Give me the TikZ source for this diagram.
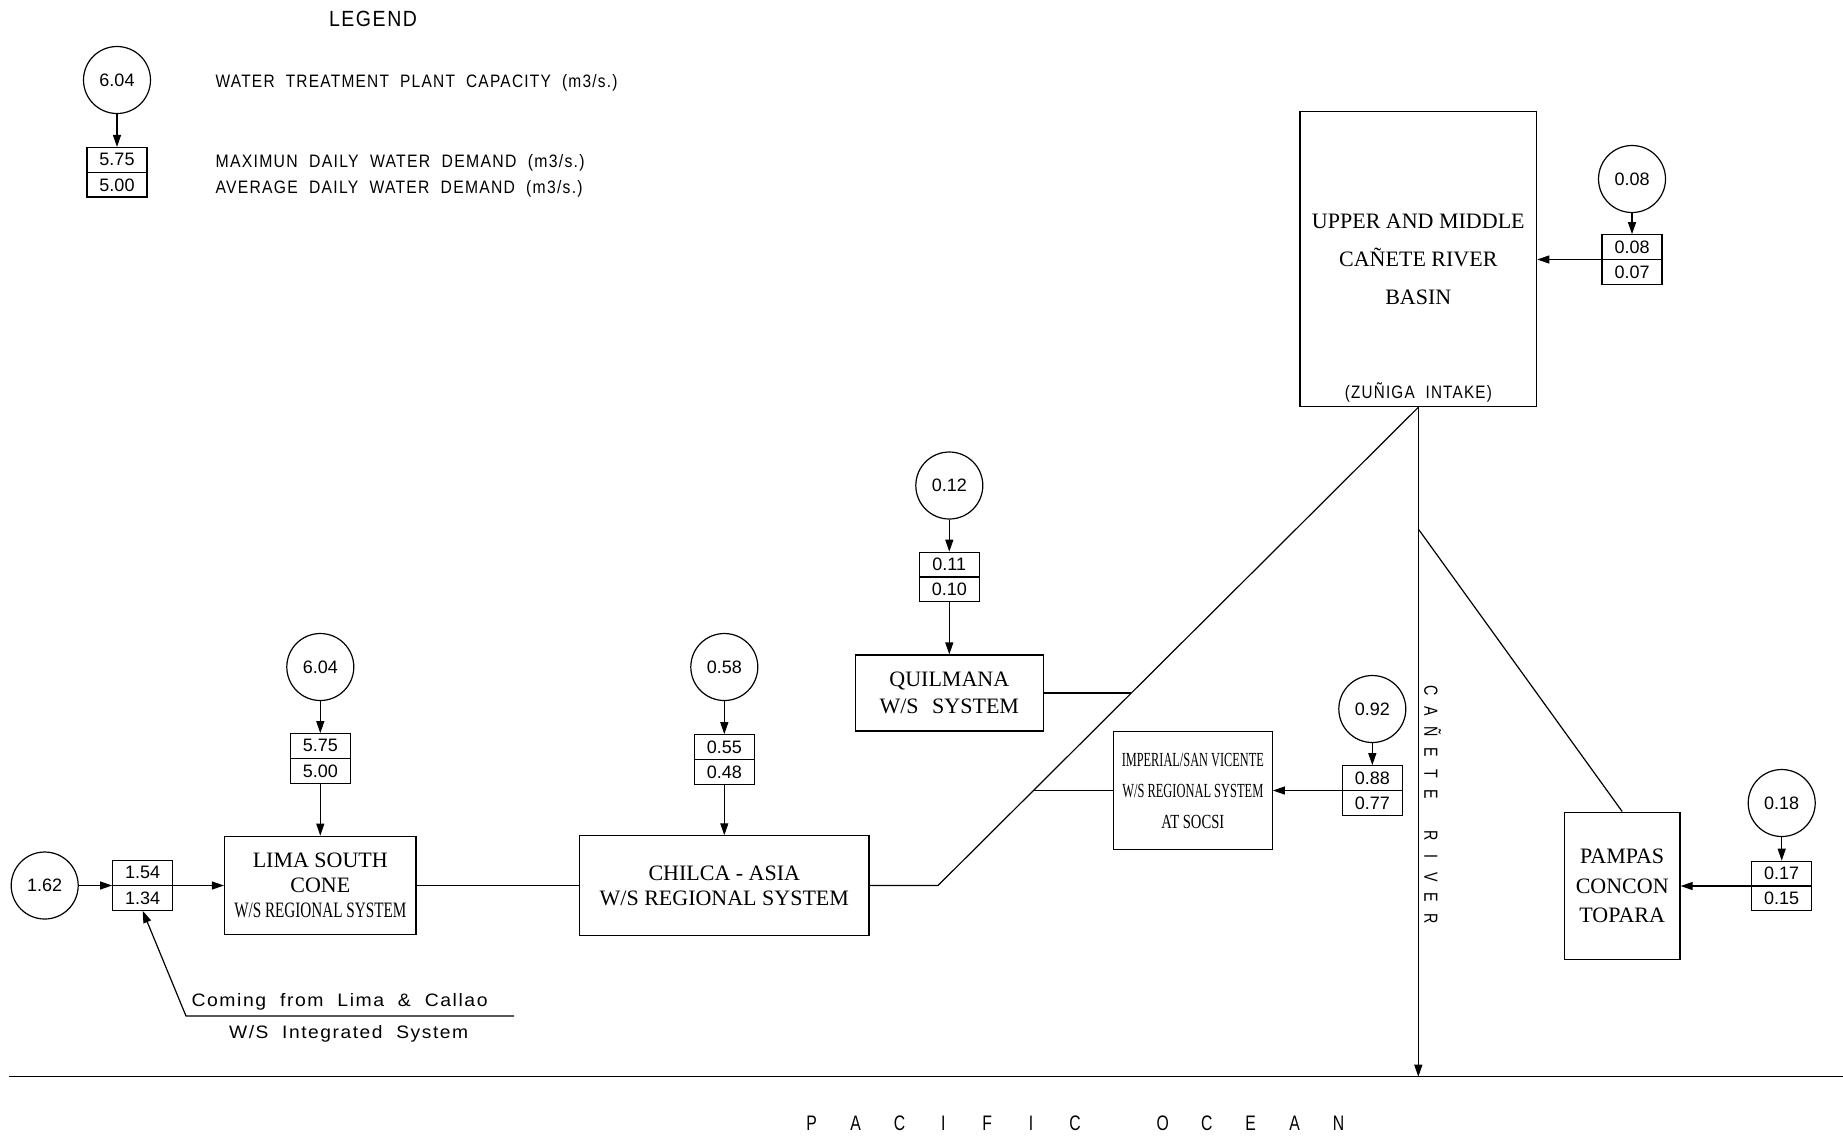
\documentclass[tikz,border=0pt]{standalone}
\usepackage{fontspec}
\usepackage{graphicx}
\setmainfont{Liberation Serif}
\newfontfamily\cad{Liberation Sans}
\newfontfamily\cads[LetterSpace=8,WordSpace=2]{Liberation Sans}
\usetikzlibrary{arrows.meta,calc}
\newcommand\wfit[2]{\resizebox{#1}{\height}{#2}}
\newcommand\ocl[1]{\makebox[43.9pt]{\scalebox{0.75}[1]{#1}}}
\newcommand\rvl[1]{\makebox[20.7pt]{\scalebox{0.75}[1]{#1}}}
\tikzset{
  valcirc/.style={draw, circle, minimum size=67pt, inner sep=0pt, font=\cad\fontsize{18}{20}\selectfont},
  valbox/.style={draw, rectangle, minimum width=60pt, minimum height=49.5pt, inner sep=0pt},
  valtxt/.style={inner sep=0pt, font=\cad\fontsize{18}{20}\selectfont},
  sepline/.style={line width=1.2pt},
  sysbox/.style={draw, rectangle, inner sep=0pt, align=center},
  flow/.style={-{Triangle[length=12pt,width=8pt]}},
  lbl/.style={inner sep=0pt, font=\cads\fontsize{18}{20}\selectfont},
}
\newcommand\demandbox[4]{%
  \node[valbox] (#1) at (#2) {};
  \draw[sepline] (#1.west) -- (#1.east);
  \node[valtxt] at ($(#1.center)!0.5!(#1.north)$) {#3};
  \node[valtxt] at ($(#1.center)!0.5!(#1.south)$) {#4};}
\begin{document}
\begin{tikzpicture}[x=1pt,y=-1pt,line width=1.2pt]
\useasboundingbox[fill=white] (0,0) rectangle (1843,1136);

% ---------- legend
\node[lbl, anchor=base, font=\cads\fontsize{22}{24}\selectfont] (leg) at (373,26) {\wfit{88pt}{LEGEND}};
\node[valcirc] (lc) at (117,80) {6.04};
\demandbox{lb}{117,172.3}{5.75}{5.00}
\draw[flow] (lc) -- (lb);
\node[lbl, anchor=base west] (lt1) at (215,87.3) {\wfit{402pt}{WATER TREATMENT PLANT CAPACITY (m3/s.)}};
\node[lbl, anchor=base west] (lt2) at (215,167.3) {\wfit{369pt}{MAXIMUN DAILY WATER DEMAND (m3/s.)}};
\node[lbl, anchor=base west] (lt3) at (215,193.3) {\wfit{367pt}{AVERAGE DAILY WATER DEMAND (m3/s.)}};

% ---------- upper basin
\node[sysbox, minimum width=236.7pt, minimum height=295pt, font=\fontsize{22}{38}\selectfont] (basin) at (1418.3,259.2) {UPPER AND MIDDLE\\CAÑETE RIVER\\BASIN};
\node[lbl, anchor=base] (zu) at (1418.3,398) {\wfit{147pt}{(ZUÑIGA INTAKE)}};
\node[valcirc] (c08) at (1632,179) {0.08};
\demandbox{b08}{1632,259.5}{0.08}{0.07}
\draw[flow] (c08) -- (b08);
\draw[flow] (b08.west) -- (b08.west -| basin.east);

% ---------- river and ocean
\coordinate (mouth) at (1418.3,1076.7);
\draw[flow] (basin.south) -- (mouth);
\coordinate (oceanL) at (9.4,1076.7);
\coordinate (oceanR) at (1843,1076.7);
\draw (oceanL) -- (oceanR);
\node[rotate=-90, anchor=west, inner sep=0pt, text height=14pt, text depth=0pt, font=\cad\fontsize{19}{20}\selectfont] (rivlbl) at (1431.3,679.6) {\rvl{C}\rvl{A}\rvl{Ñ}\rvl{E}\rvl{T}\rvl{E}\rvl{}\rvl{R}\rvl{I}\rvl{V}\rvl{E}\rvl{R}};
\node[anchor=base west, inner sep=0pt, font=\cad\fontsize{21}{22}\selectfont] (ocean) at (789.1,1130) {\ocl{P}\ocl{A}\ocl{C}\ocl{I}\ocl{F}\ocl{I}\ocl{C}\ocl{}\ocl{O}\ocl{C}\ocl{E}\ocl{A}\ocl{N}};

% ---------- Quilmana
\node[valcirc] (c12) at (949.3,485.5) {0.12};
\demandbox{b12}{949.3,577}{0.11}{0.10}
\node[sysbox, minimum width=188.3pt, minimum height=76pt, font=\fontsize{22}{26.7}\selectfont] (quil) at (949.3,693) {QUILMANA\\W/S\hspace{8pt} SYSTEM};
\draw[flow] (c12) -- (b12);
\draw[flow] (b12) -- (quil);
\coordinate (qj) at (1131.1,693);
\draw (quil.east) -- (qj);

% ---------- Imperial / San Vicente
\node[sysbox, minimum width=159pt, minimum height=118.3pt, font=\fontsize{20}{31}\selectfont] (imp) at (1192.8,790.5) {\wfit{142pt}{IMPERIAL/SAN VICENTE}\\ \wfit{141pt}{W/S REGIONAL SYSTEM}\\ \wfit{63pt}{AT SOCSI}};
\coordinate (ij) at (1033.8,790.5);
\draw (imp.west) -- (ij);
\node[valcirc] (c92) at (1372.3,709) {0.92};
\demandbox{b92}{1372.3,790.5}{0.88}{0.77}
\draw[flow] (c92) -- (b92);
\draw[flow] (b92) -- (imp);

% ---------- Pampas
\node[sysbox, minimum width=115.7pt, minimum height=147.7pt, font=\fontsize{22}{29.2}\selectfont] (pampas) at (1622.2,886) {PAMPAS\\CONCON\\TOPARA};
\coordinate (rb) at (1418.3,529);
\draw (rb) -- (pampas.north);
\node[valcirc] (c18) at (1781.7,803) {0.18};
\demandbox{b18}{1781.7,886}{0.17}{0.15}
\draw[flow] (c18) -- (b18);
\draw[flow] (b18) -- (pampas);

% ---------- Chilca
\node[valcirc] (c58) at (724.3,667) {0.58};
\demandbox{b58}{724.3,759.5}{0.55}{0.48}
\node[sysbox, minimum width=289.3pt, minimum height=99.3pt, font=\fontsize{22}{25}\selectfont] (chilca) at (724.3,885.5) {CHILCA - ASIA\\W/S REGIONAL SYSTEM};
\draw[flow] (c58) -- (b58);
\draw[flow] (b58) -- (chilca);

% ---------- diagonal main conduit
\coordinate (bend) at (938,885.5);
\draw (basin.south) -- (bend) -- (chilca.east);

% ---------- Lima South Cone
\node[valcirc] (c604) at (320.3,667) {6.04};
\demandbox{b575}{320.3,758.5}{5.75}{5.00}
\node[sysbox, minimum width=191.5pt, minimum height=98.5pt, font=\fontsize{22}{25.3}\selectfont] (lima) at (320.3,885.5) {LIMA SOUTH\\CONE\\ \wfit{172pt}{W/S REGIONAL SYSTEM}};
\draw[flow] (c604) -- (b575);
\draw[flow] (b575) -- (lima);
\draw (lima) -- (chilca);
\node[valcirc] (c162) at (44.7,885.5) {1.62};
\demandbox{b154}{142.7,885.5}{1.54}{1.34}
\draw[flow] (c162) -- (b154);
\draw[flow] (b154) -- (lima);

% ---------- leader from Lima & Callao
\coordinate (lend) at (514,1016);
\coordinate (lbend) at (186,1016);
\draw[flow] (lend) -- (lbend) -- (b154.south);
\node[lbl, anchor=base west] (com1) at (191,1006.7) {\wfit{296pt}{Coming from Lima \& Callao}};
\node[lbl, anchor=base west] (com2) at (228.5,1038) {\wfit{239pt}{W/S Integrated System}};
\end{tikzpicture}
\end{document}
